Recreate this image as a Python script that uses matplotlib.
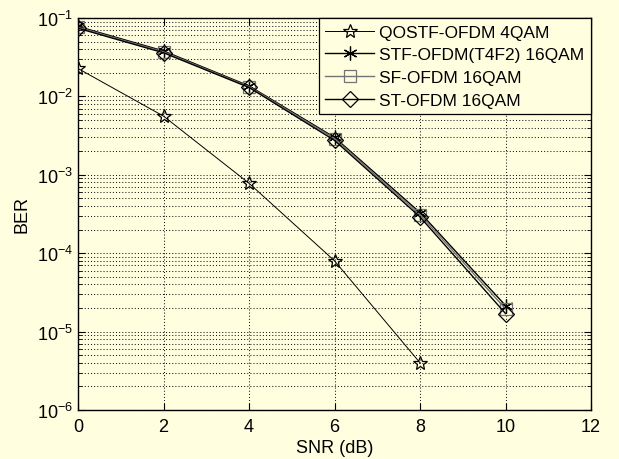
import matplotlib
matplotlib.use("Agg")
import matplotlib.pyplot as plt
from matplotlib.ticker import LogLocator, NullFormatter, FixedLocator

plt.rcParams['font.family'] = ['Liberation Sans', 'DejaVu Sans']
plt.rcParams['mathtext.fontset'] = 'custom'
plt.rcParams['mathtext.rm'] = 'Liberation Sans'
plt.rcParams['mathtext.it'] = 'Liberation Sans:italic'
plt.rcParams['mathtext.bf'] = 'Liberation Sans:bold'

BG = '#FFFFE0'

snr_q = [0, 2, 4, 6, 8]
ber_qostf = [0.0227, 0.0056, 7.8e-4, 8.0e-5, 4.0e-6]

snr = [0, 2, 4, 6, 8, 10]
ber_stf = [0.078, 0.038, 0.0136, 3.0e-3, 3.3e-4, 2.15e-5]
ber_sf = [0.076, 0.037, 0.0133, 2.9e-3, 3.1e-4, 1.95e-5]
ber_st = [0.074, 0.036, 0.0130, 2.75e-3, 2.9e-4, 1.7e-5]

labels = ['QOSTF-OFDM 4QAM', 'STF-OFDM(T4F2) 16QAM', 'SF-OFDM 16QAM', 'ST-OFDM 16QAM']
xticks = [0, 2, 4, 6, 8, 10, 12]

fig = plt.figure(figsize=(6.19, 4.60), dpi=100, facecolor=BG)
ax = fig.add_axes([78/619, 1 - 411/460, (591 - 78)/619, (411 - 19)/460])
ax.set_facecolor(BG)

ax.semilogy(snr_q, ber_qostf, color='black', lw=0.7, marker='*', ms=10,
            mfc='none', mec='black', mew=0.9, label=labels[0])
ax.semilogy(snr, ber_stf, color='black', lw=1.0, marker=(6, 2, 0), ms=10,
            mfc='none', mec='black', mew=0.9, label=labels[1])
ax.semilogy(snr, ber_sf, color='0.45', lw=1.0, marker='s', ms=8,
            mfc='none', mec='0.45', mew=0.9, label=labels[2])
ax.semilogy(snr, ber_st, color='black', lw=1.0, marker='D', ms=8,
            mfc='none', mec='black', mew=0.9, label=labels[3])

ax.set_xlim(0, 12)
ax.set_ylim(1e-6, 1e-1)
ax.xaxis.set_major_locator(FixedLocator(xticks))
ax.yaxis.set_major_locator(LogLocator(base=10, numticks=10))
ax.yaxis.set_minor_locator(LogLocator(base=10, subs=range(2, 10), numticks=100))
ax.yaxis.set_minor_formatter(NullFormatter())

ax.grid(True, which='major', color='0.1', linestyle=(0, (1, 2)), lw=0.75)
ax.grid(True, which='minor', axis='y', color='0.1', linestyle=(0, (1, 2)), lw=0.75)

ax.tick_params(which='both', direction='in', top=True, right=True, labelsize=13, colors='black')
ax.tick_params(axis='x', pad=6)
ax.tick_params(which='major', length=5, width=0.8)
ax.tick_params(which='minor', length=3, width=0.6)
for s in ax.spines.values():
    s.set_linewidth(1.0)
    s.set_color('black')

ax.set_xlabel('SNR (dB)', fontsize=13, labelpad=3)
ax.set_ylabel('BER', fontsize=13, labelpad=5)

leg = ax.legend(loc='upper right', borderaxespad=0, fancybox=False, framealpha=1,
                facecolor=BG, edgecolor='black', fontsize=12.5, handlelength=2.8,
                handletextpad=0.3, labelspacing=0.43, borderpad=0.38)
leg.get_frame().set_linewidth(0.9)

fig.savefig('out.png', dpi=100, facecolor=BG)
